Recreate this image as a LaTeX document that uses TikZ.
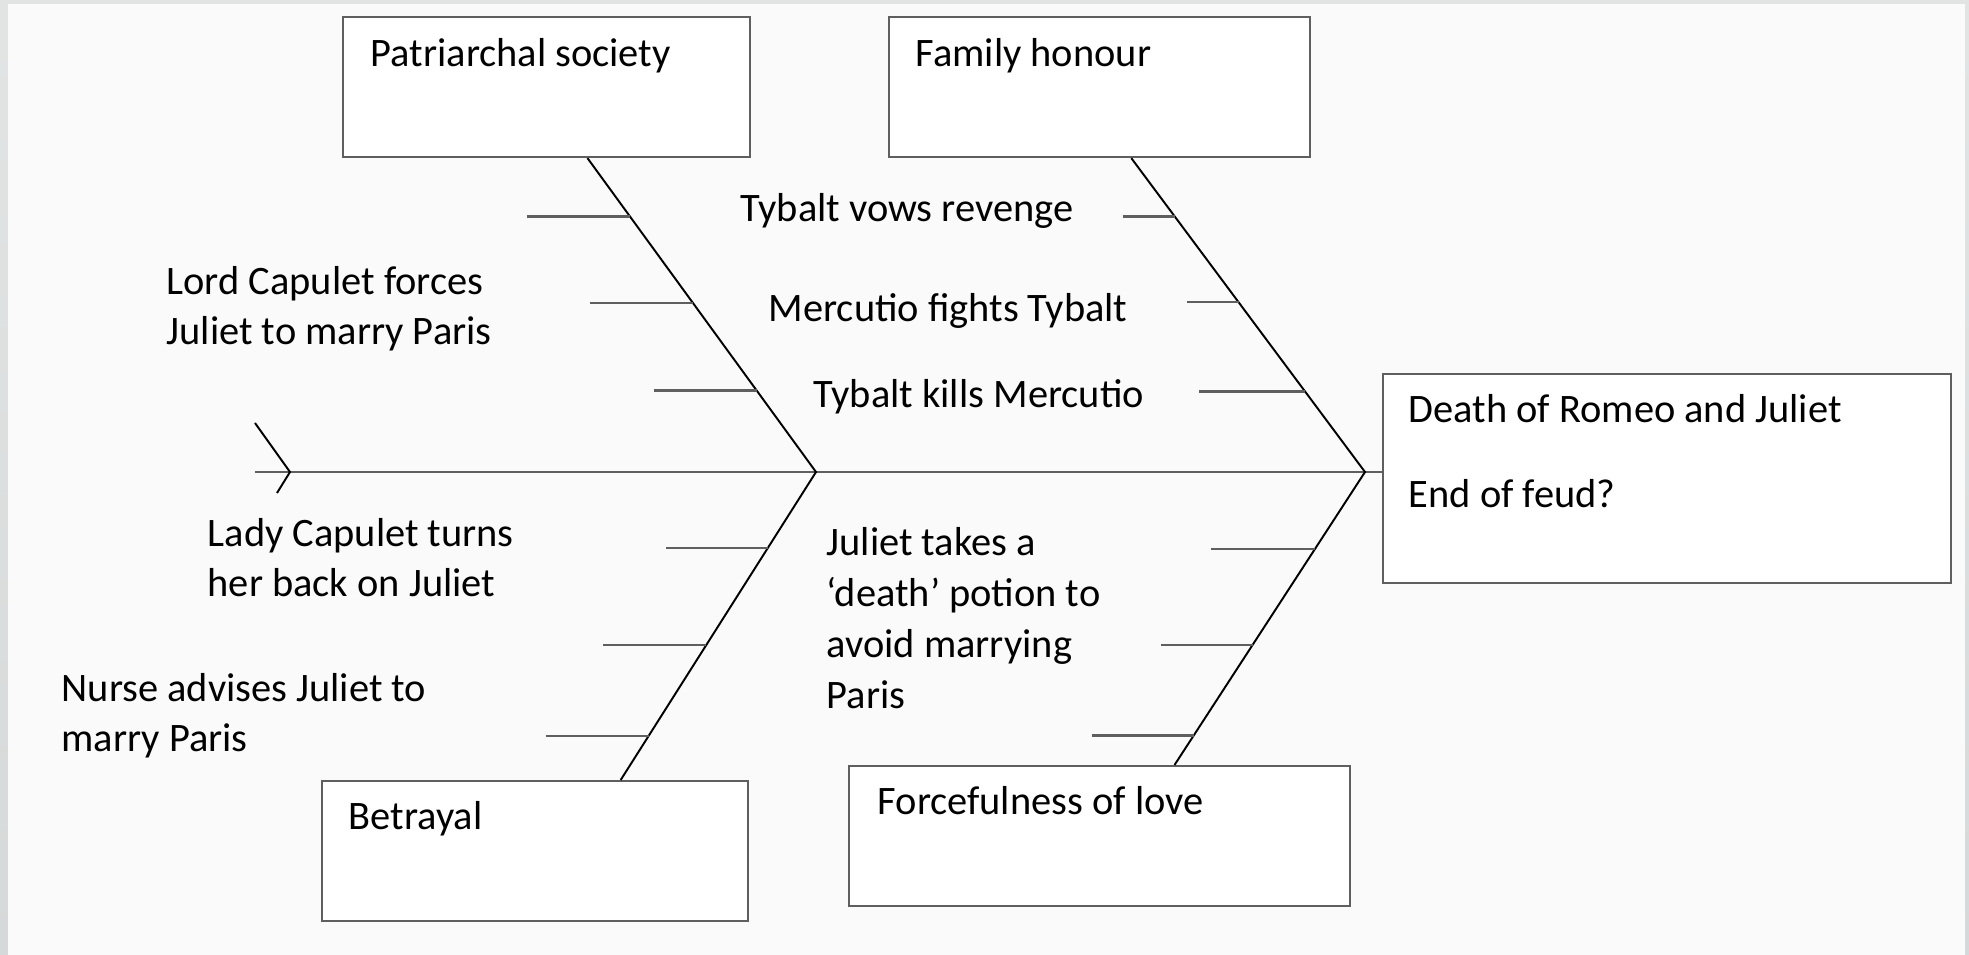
\documentclass[tikz,border=0pt]{standalone}
\usepackage{fontspec}
\setmainfont{Carlito}
\usetikzlibrary{calc}

\definecolor{framegray}{RGB}{214,217,217}
\definecolor{linegray}{RGB}{95,95,95}
\newcommand{\boneFont}{\fontsize{11.5}{14.5}\selectfont}

\tikzset{
  causebox/.style={draw=linegray, line width=0.6pt, fill=white, anchor=north west, inner sep=0pt},
  boneline/.style={black, line width=0.55pt},
  ribline/.style={linegray, line width=0.75pt},
  causetext/.style={anchor=base west, inner sep=0pt, align=left, font=\boneFont},
}

\begin{document}
\begin{tikzpicture}[x=0.1mm, y=-0.1mm]
   \useasboundingbox (0,0) rectangle (1969,955);
   \shade[top color=framegray!70, bottom color=framegray] (0,0) rectangle (1969,955);
   \fill[white!98!black] (8,4) rectangle (1965,955);

   % boxes
   \node[causebox, minimum width=40.7mm, minimum height=14mm] (patriarchal) at (342,16) {};
   \node[causebox, minimum width=42.1mm, minimum height=14mm] (honour) at (888,16) {};
   \node[causebox, minimum width=42.6mm, minimum height=14mm] (betrayal) at (321,780) {};
   \node[causebox, minimum width=50.1mm, minimum height=14mm] (forceful) at (848,765) {};
   \node[causebox, minimum width=56.8mm, minimum height=20.9mm] (death) at (1382,373) {};

   \node[causetext] (patriarchaltxt) at (370,67) {Patriarchal society};
   \node[causetext] (honourtxt) at (915,67) {Family honour};
   \node[causetext] (betrayaltxt) at (348,830) {Betrayal};
   \node[causetext] (forcefultxt) at (877,815) {Forcefulness of love};
   \node[causetext] (deathtxt) at (1408,423) {Death of Romeo and Juliet};
   \node[causetext] (feudtxt) at (1408,508) {End of feud?};

   % spine
   \coordinate (tail) at (255,472);
   \coordinate (midjoint) at (816,472);
   \coordinate (head) at (1365,472);
   \draw[ribline] (tail) -- (death.west |- head);
   \draw[boneline] ($(tail)+(0,-49)$) -- ($(tail)+(35,0)$) -- ($(tail)+(22,21)$);

   % bones
   \coordinate (pfoot) at ($(patriarchal.south west)!0.6!(patriarchal.south east)$);
   \coordinate (hfoot) at ($(honour.south west)!0.575!(honour.south east)$);
   \coordinate (bfoot) at ($(betrayal.north west)!0.7!(betrayal.north east)$);
   \coordinate (ffoot) at ($(forceful.north west)!0.649!(forceful.north east)$);
   \draw[boneline] (pfoot) -- (midjoint) -- (bfoot);
   \draw[boneline] (hfoot) -- (head) -- (ffoot);

   % ribs
   \foreach \t/\len [count=\i] in {0.187/103, 0.462/103, 0.74/103}
   {%
      \path ($(pfoot)!\t!(midjoint)$) coordinate (pr\i) ++(-\len,0) coordinate (pl\i);
      \draw[ribline] (pl\i) -- (pr\i);
   }
   \foreach \t/\len [count=\i] in {0.187/52, 0.459/52, 0.744/106}
   {%
      \path ($(hfoot)!\t!(head)$) coordinate (hr\i) ++(-\len,0) coordinate (hl\i);
      \draw[ribline] (hl\i) -- (hr\i);
   }
   \foreach \t/\len [count=\i] in {0.247/102, 0.562/103, 0.857/103}
   {%
      \path ($(midjoint)!\t!(bfoot)$) coordinate (br\i) ++(-\len,0) coordinate (bl\i);
      \draw[ribline] (bl\i) -- (br\i);
   }
   \foreach \t/\len [count=\i] in {0.263/104, 0.59/92, 0.9/102}
   {%
      \path ($(head)!\t!(ffoot)$) coordinate (fr\i) ++(-\len,0) coordinate (fl\i);
      \draw[ribline] (fl\i) -- (fr\i);
   }

   % causes (multi-line: placed at last baseline)
   \node[causetext] (vows) at (740,222) {Tybalt vows revenge};
   \node[causetext] (fights) at (768,322) {Mercutio fights Tybalt};
   \node[causetext] (kills) at (813,408) {Tybalt kills Mercutio};
   \node[causetext] (lord) at (166,345) {Lord Capulet forces\\Juliet to marry Paris};
   \node[causetext] (lady) at (207,597) {Lady Capulet turns\\her back on Juliet};
   \node[causetext] (nurse) at (61,752) {Nurse advises Juliet to\\marry Paris};
   \node[causetext] (potion) at (826,708) {Juliet takes a\\‘death’ potion to\\avoid marrying\\Paris};
\end{tikzpicture}
\end{document}
